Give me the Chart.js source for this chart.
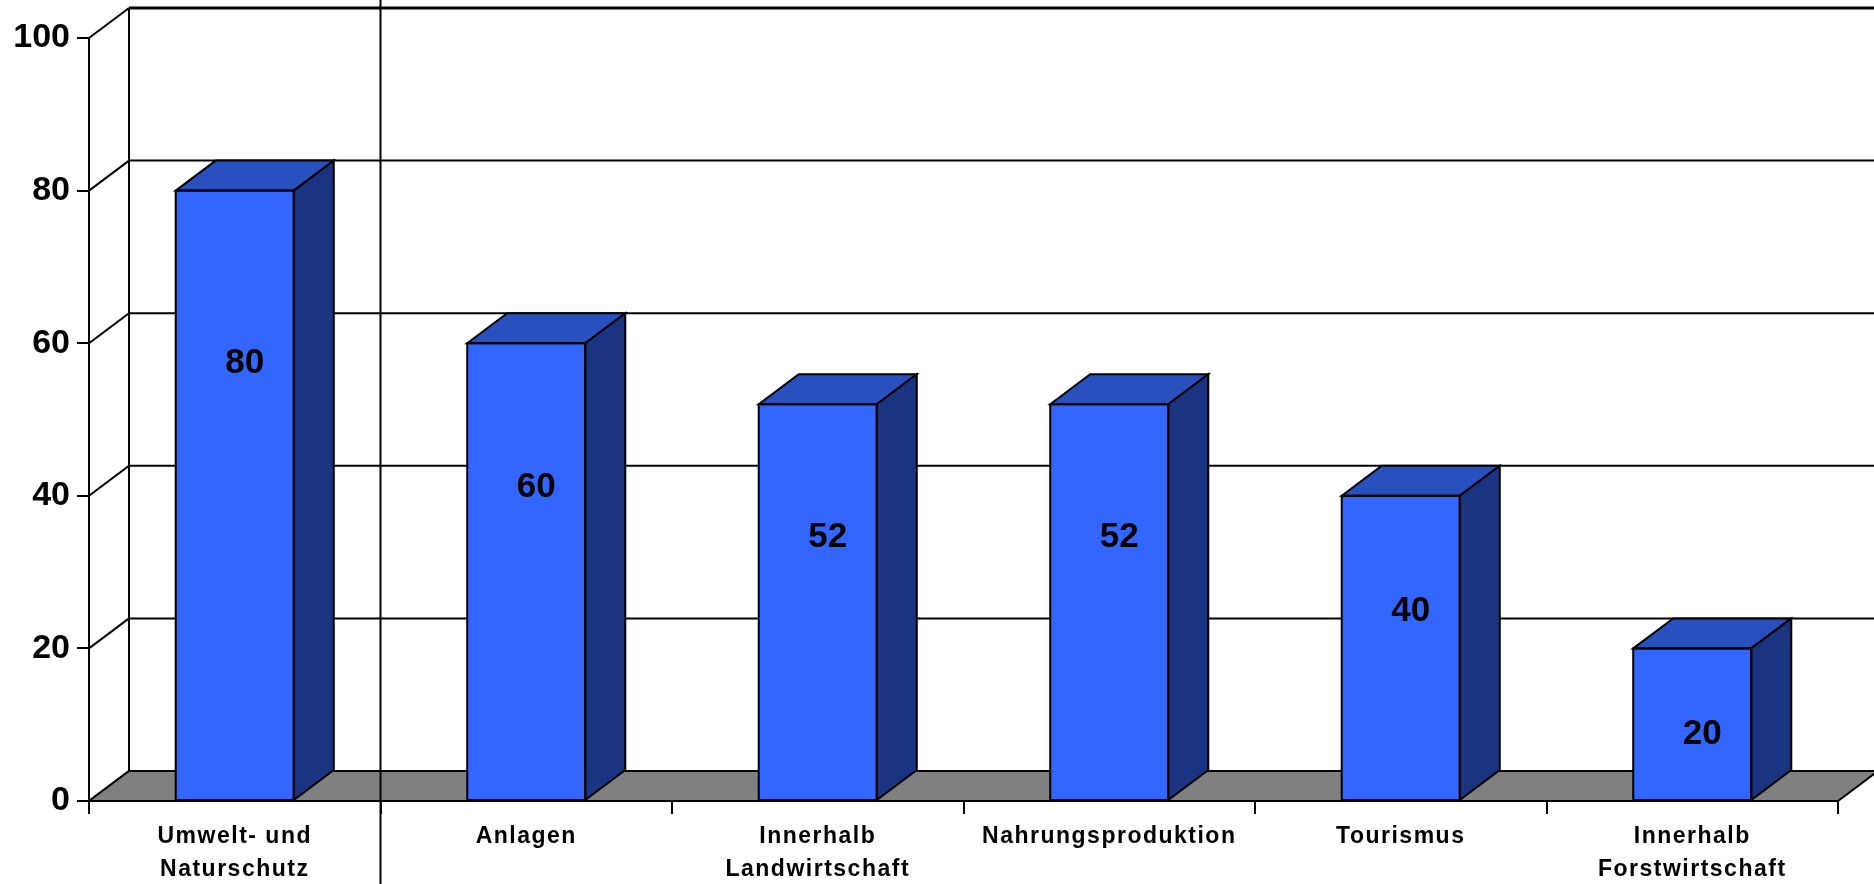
<!DOCTYPE html>
<html>
<head>
<meta charset="utf-8">
<script src="https://cdn.jsdelivr.net/npm/chart.js@4/dist/chart.umd.min.js"></script>
<style>
  body { margin: 0; background: #fff; }
  #wrap { width: 1874px; height: 884px; position: relative; }
</style>
</head>
<body>
<div id="wrap"><canvas id="myChart"></canvas></div>
<script>
// Daten
const categories = [
  ['Umwelt- und', 'Naturschutz'],
  'Anlagen',
  ['Innerhalb', 'Landwirtschaft'],
  'Nahrungsproduktion',
  'Tourismus',
  ['Innerhalb', 'Forstwirtschaft']
]
const values = [80, 60, 52, 52, 40, 20]
const yTicks = [0, 20, 40, 60, 80, 100]

// Tiefe der 3D-Darstellung
const DX = 40
const DY = -30

function poly(ctx, pts, fill) {
  ctx.beginPath()
  ctx.moveTo(pts[0][0], pts[0][1])
  for (let i = 1; i < pts.length; i++) ctx.lineTo(pts[i][0], pts[i][1])
  ctx.closePath()
  if (fill) { ctx.fillStyle = fill; ctx.fill() }
  ctx.stroke()
}

const wall3d = {
  id: 'wall3d',
  beforeDraw(chart) {
    // x-Beschriftung mit Sperrung
    const sx = chart.scales.x
    if (!sx._spaced) {
      const orig = sx.drawLabels
      sx.drawLabels = function(area) {
        const c = this.ctx
        c.save()
        c.letterSpacing = '1.5px'
        orig.call(this, area)
        c.restore()
      }
      sx._spaced = true
    }
  },
  beforeDatasetsDraw(chart) {
    const ctx = chart.ctx
    const ys = chart.scales.y
    const xs = chart.scales.x
    const a = chart.chartArea
    const W = chart.width
    const y0 = ys.getPixelForValue(0)
    ctx.save()
    ctx.strokeStyle = '#000'
    ctx.lineCap = 'butt'

    // Rueckwand-Gitterlinien und Diagonalen
    yTicks.forEach(v => {
      const y = ys.getPixelForValue(v)
      if (v > 0) {
        ctx.lineWidth = v === 100 ? 3 : 2
        ctx.beginPath()
        ctx.moveTo(a.left + DX, y + DY)
        ctx.lineTo(W, y + DY)
        ctx.stroke()
      }
      ctx.lineWidth = 2
      ctx.beginPath()
      ctx.moveTo(a.left, y)
      ctx.lineTo(a.left + DX, y + DY)
      ctx.stroke()
    })
    // linke Rueckwandkante
    ctx.lineWidth = 2
    ctx.beginPath()
    ctx.moveTo(a.left + DX, ys.getPixelForValue(100) + DY)
    ctx.lineTo(a.left + DX, y0 + DY)
    ctx.stroke()

    // Boden
    ctx.lineWidth = 2
    poly(ctx, [
      [a.left, y0], [a.left + DX, y0 + DY],
      [a.right + DX, y0 + DY], [a.right, y0]
    ], '#808080')

    // Trennlinie nach der ersten Kategorie
    const sep = (xs.getPixelForValue(0) + xs.getPixelForValue(1)) / 2
    ctx.lineWidth = 2
    ctx.beginPath()
    ctx.moveTo(sep, 0)
    ctx.lineTo(sep, chart.height)
    ctx.stroke()
    ctx.restore()
  },
  afterDatasetsDraw(chart) {
    const ctx = chart.ctx
    const ys = chart.scales.y
    const meta = chart.getDatasetMeta(0)
    ctx.save()
    ctx.strokeStyle = '#000'
    ctx.lineWidth = 2
    ctx.lineJoin = 'miter'
    meta.data.forEach((bar, i) => {
      const p = bar.getProps(['x', 'y', 'base', 'width'], true)
      const l = p.x - p.width / 2
      const r = p.x + p.width / 2
      poly(ctx, [[l, p.y], [l + DX, p.y + DY], [r + DX, p.y + DY], [r, p.y]], '#2850BF')
      poly(ctx, [[r, p.y], [r + DX, p.y + DY], [r + DX, p.base + DY], [r, p.base]], '#1B3482')
      ctx.strokeRect(l, p.y, p.width, p.base - p.y)

      // Wertbeschriftung
      ctx.fillStyle = '#000'
      ctx.font = 'bold 35px "Liberation Sans", Arial, sans-serif'
      ctx.textAlign = 'center'
      ctx.textBaseline = 'middle'
      ctx.fillText(String(values[i]), p.x + 10, ys.getPixelForValue(values[i] * 0.81 - 7.5))
    })
    ctx.restore()
  }
}

const ctx = document.getElementById('myChart')
const myChart = new Chart(ctx, {
  type: 'bar',
  data: {
    labels: categories,
    datasets: [{
      data: values,
      backgroundColor: '#3366FF',
      borderColor: '#000',
      borderWidth: 0,
      barPercentage: 0.405,
      categoryPercentage: 1
    }]
  },
  options: {
    responsive: true,
    maintainAspectRatio: false,
    animation: false,
    devicePixelRatio: 1,
    layout: { padding: { top: 38, right: 36, left: 0, bottom: 0 } },
    plugins: {
      legend: { display: false },
      tooltip: { enabled: false }
    },
    scales: {
      x: {
        grid: {
          offset: true,
          drawOnChartArea: false,
          drawTicks: true,
          tickLength: 13,
          color: '#000',
          lineWidth: 2
        },
        border: { color: '#000', width: 2 },
        ticks: {
          color: '#000',
          maxRotation: 0,
          autoSkip: false,
          padding: 6,
          font: { family: '"Liberation Sans", Arial, sans-serif', size: 23, weight: 'bold', lineHeight: 1.45 }
        },
        afterFit(scale) { scale.height = 83 }
      },
      y: {
        min: 0,
        max: 100,
        ticks: {
          stepSize: 20,
          color: '#000',
          padding: 7,
          font: { family: '"Liberation Sans", Arial, sans-serif', size: 34, weight: 'bold' }
        },
        grid: {
          drawOnChartArea: false,
          drawTicks: true,
          tickLength: 12,
          color: '#000',
          lineWidth: 2
        },
        border: { color: '#000', width: 2 },
        afterFit(scale) { scale.width = 89 }
      }
    }
  },
  plugins: [wall3d]
})
</script>
</body>
</html>
